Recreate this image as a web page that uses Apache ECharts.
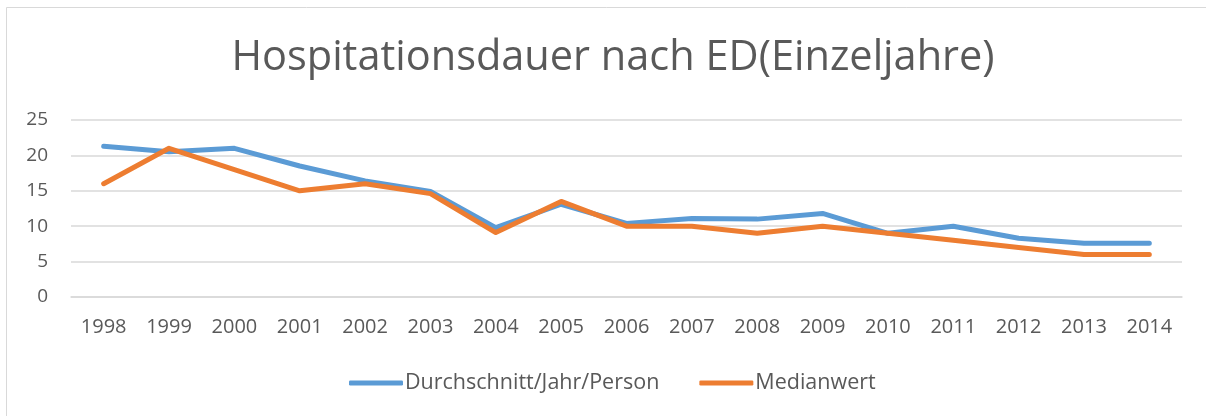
<!DOCTYPE html>
<html>
<head>
<meta charset="utf-8">
<script src="https://cdn.jsdelivr.net/npm/echarts@6/dist/echarts.min.js"></script>
<style>html,body{margin:0;padding:0;background:#fff}#c{width:1206px;height:416px}</style>
</head>
<body>
<div id="c"></div>
<script>
var titleText = 'Hospitationsdauer nach ED(Einzeljahre)';
var years = ['1998','1999','2000','2001','2002','2003','2004','2005','2006','2007','2008','2009','2010','2011','2012','2013','2014'];
var seriesNames = ['Durchschnitt/Jahr/Person', 'Medianwert'];
var durchschnitt = [21.3, 20.5, 21.0, 18.5, 16.4, 14.9, 9.8, 13.1, 10.4, 11.1, 11.0, 11.8, 9.0, 10.0, 8.3, 7.6, 7.6];
var median = [16, 21, 18, 15, 16, 14.6, 9.1, 13.5, 10, 10, 9, 10, 9, 8, 7, 6, 6];
var yTicks = {min: 0, max: 25, interval: 5};

var font = '"Open Sans", sans-serif';
var txt = '#595959';
var chart = echarts.init(document.getElementById('c'), null, {renderer: 'canvas'});
chart.setOption({
  animation: false,
  backgroundColor: '#ffffff',
  graphic: [{
    type: 'rect', shape: {x: 6.5, y: 7.5, width: 1400, height: 600},
    style: {fill: 'none', stroke: '#d9d9d9', lineWidth: 1}, silent: true, z: -1
  }],
  title: {
    text: titleText, left: 608, textAlign: 'center', top: 32,
    textStyle: {fontFamily: font, fontSize: 41.5, fontWeight: 'normal', color: txt}
  },
  legend: {
    data: seriesNames, top: 367, left: 344, itemWidth: 54, itemHeight: 5, itemGap: 40,
    icon: 'roundRect',
    textStyle: {fontFamily: font, fontSize: 21.5, color: txt, padding: [0,0,0,-3]}
  },
  grid: {left: 71, right: 24, top: 120, bottom: 119, containLabel: false},
  xAxis: {
    type: 'category', data: years, boundaryGap: true,
    axisLine: {lineStyle: {color: '#d9d9d9', width: 1.5}},
    axisTick: {show: false},
    axisLabel: {fontFamily: font, fontSize: 20, color: txt, margin: 20}
  },
  yAxis: {
    type: 'value', min: yTicks.min, max: yTicks.max, interval: yTicks.interval,
    axisLine: {show: false}, axisTick: {show: false},
    splitLine: {lineStyle: {color: '#d9d9d9', width: 1.5}},
    axisLabel: {fontFamily: font, fontSize: 19, color: txt, margin: 23}
  },
  series: [{
    name: seriesNames[0], type: 'line', data: durchschnitt, symbol: 'none',
    color: '#5B9BD5', lineStyle: {width: 5, cap: 'round', join: 'round', color: '#5B9BD5'}
  }, {
    name: seriesNames[1], type: 'line', data: median, symbol: 'none',
    color: '#ED7D31', lineStyle: {width: 5, cap: 'round', join: 'round', color: '#ED7D31'}
  }]
});
</script>
</body>
</html>
